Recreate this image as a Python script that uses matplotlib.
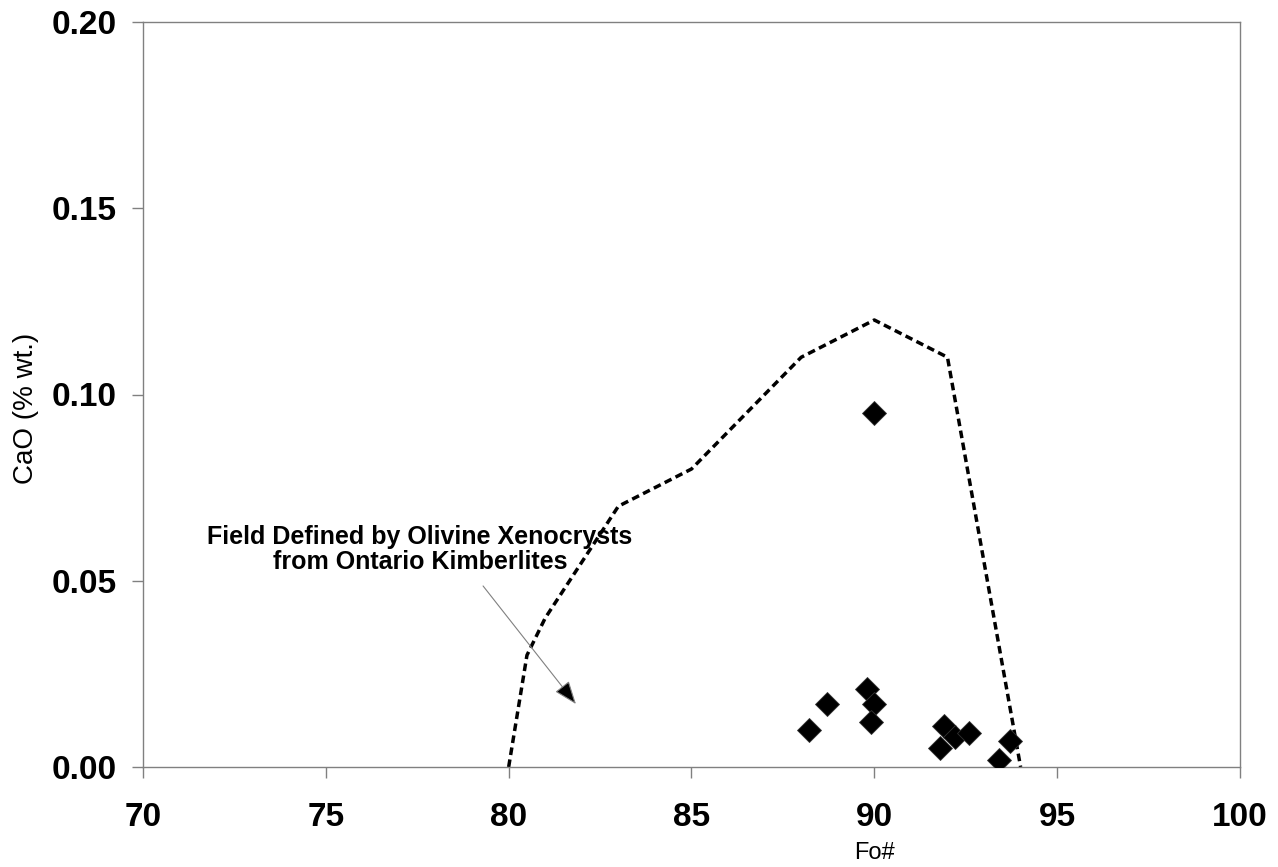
import matplotlib
matplotlib.use("Agg")
import matplotlib.pyplot as plt

plt.rcParams['font.family'] = ['Liberation Sans', 'DejaVu Sans']

# Olivine analyses: forsterite number vs CaO
fo_number = [90.0, 88.2, 88.7, 89.8, 90.0, 89.9, 91.9, 91.8, 92.2, 92.6, 93.7, 93.4]
cao_wt = [0.095, 0.010, 0.017, 0.021, 0.017, 0.012, 0.011, 0.005, 0.008, 0.009, 0.007, 0.002]

# Outline of the field for olivine xenocrysts from Ontario kimberlites
field_fo = [80.0, 80.5, 81.0, 83.0, 85.0, 88.0, 90.0, 92.0, 94.0]
field_cao = [0.0, 0.03, 0.04, 0.07, 0.08, 0.11, 0.12, 0.11, 0.0]

x_ticks = [70, 75, 80, 85, 90, 95, 100]
y_ticks = [0.00, 0.05, 0.10, 0.15, 0.20]

fig = plt.figure(figsize=(12.78, 8.67), dpi=100)
ax = fig.add_axes([143 / 1278, 100 / 867, 1097 / 1278, 745 / 867])

ax.plot(field_fo, field_cao, color='black', lw=2.5,
        linestyle=(0, (2.2, 1.3)), solid_capstyle='butt', zorder=2)
ax.plot(fo_number, cao_wt, linestyle='none', marker='D', markersize=12,
        markerfacecolor='black', markeredgecolor='#333333', markeredgewidth=0.6,
        zorder=3)

ax.annotate('', xy=(81.84, 0.0169), xytext=(79.30, 0.0486),
            arrowprops=dict(arrowstyle='-|>,head_length=1.45,head_width=0.55',
                            edgecolor='#808080', facecolor='black', lw=0.8,
                            shrinkA=0, shrinkB=0), zorder=4)
ax.text(77.575, 0.0583, 'Field Defined by Olivine Xenocrysts\nfrom Ontario Kimberlites',
        ha='center', va='center', multialignment='center', fontsize=18,
        fontweight='bold', linespacing=1.05, zorder=5)

ax.set_xlim(70, 100)
ax.set_ylim(0, 0.20)
ax.set_xticks(x_ticks)
ax.set_xticklabels([f'{v}' for v in x_ticks])
ax.set_yticks(y_ticks)
ax.set_yticklabels([f'{v:.2f}' for v in y_ticks])

for sp in ax.spines.values():
    sp.set_color('#808080')
    sp.set_linewidth(1.0)

ax.tick_params(axis='both', direction='out', length=8, width=1.0, color='#808080',
               labelsize=24)
ax.tick_params(axis='x', pad=17)
ax.tick_params(axis='y', pad=11)
for lbl in ax.get_xticklabels() + ax.get_yticklabels():
    lbl.set_fontweight('bold')

ax.set_xlabel('Fo#', fontsize=17)
ax.xaxis.set_label_coords((874 - 143) / 1097, (767 - 853) / 745)
ax.xaxis.label.set_va('center')
ax.set_ylabel('CaO (% wt.)', fontsize=20)
ax.yaxis.set_label_coords((26 - 143) / 1097, (767 - 408) / 745)
ax.yaxis.label.set_va('center')

fig.savefig('out.png', dpi=100, facecolor='white')
